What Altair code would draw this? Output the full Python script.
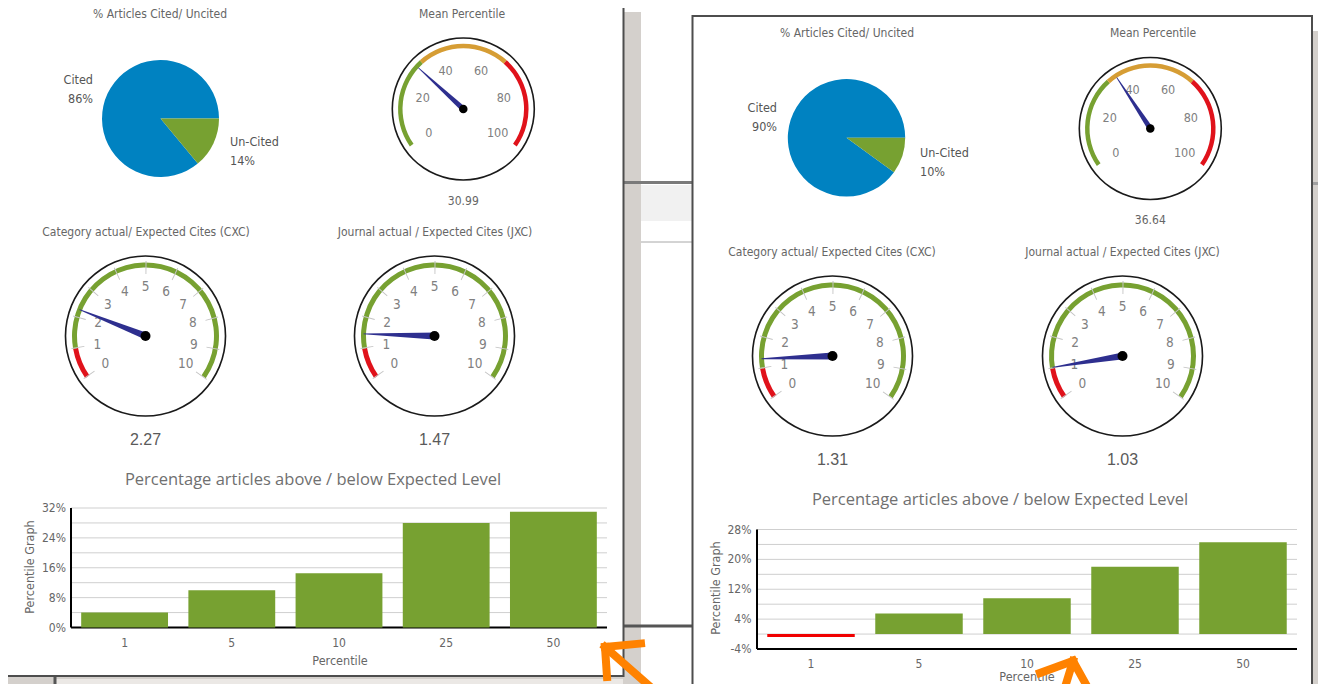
import math
import altair as alt
import pandas as pd

# ---------------- data ----------------
pie_labels = ["Cited", "Un-Cited"]
pie_values_left = [86, 14]
pie_values_right = [90, 10]

mean_values = [30.99, 36.64]
cxc_values = [2.27, 1.31]
jxc_values = [1.47, 1.03]

mean_ticks = [0, 20, 40, 60, 80, 100]
ratio_ticks = [0, 1, 2, 3, 4, 5, 6, 7, 8, 9, 10]
mean_zone_edges = [0, 33.3, 66.7, 100]
mean_zone_names = ["low", "mid", "high"]
ratio_zone_edges = [0, 1, 10]
ratio_zone_names = ["below", "above"]

bar_categories = ["1", "5", "10", "25", "50"]
bar_values_left = [4.0, 10.0, 14.5, 28.0, 31.0]
bar_values_right = [-0.8, 5.5, 9.6, 18.0, 24.6]
left_axis_ticks = [0, 8, 16, 24, 32]
right_axis_ticks = [-4, 4, 12, 20, 28]
left_grid = [0, 4, 8, 12, 16, 20, 24, 28, 32]
right_grid = [-4, 0, 4, 8, 12, 16, 20, 24, 28]

# ---------------- style ----------------
W, H = 1310, 676
OFF = 8
BLUE = "#0082C1"
GREEN = "#77A131"
RED = "#E0121B"
GOLD = "#D69D34"
NEEDLE = "#2E2F8F"
TXT = "#666666"
NARROW = "'Liberation Sans Narrow', 'DejaVu Sans Condensed', 'Roboto Condensed', 'Arial Narrow', sans-serif"
SANS = "'Liberation Sans', sans-serif"
TH0 = 2 * math.pi - math.radians(125)
TH1 = 2 * math.pi + math.radians(125)
DUMMY = pd.DataFrame({"d": [0]})


def px(v):
    return v - OFF


layers = []


def text_at(x, y, s, size, color=TXT, font=NARROW, align="center", baseline="middle", angle=None):
    kw = dict(text=s, fontSize=size, color=color, font=font, align=align, baseline=baseline)
    if angle is not None:
        kw["angle"] = angle
    return alt.Chart(DUMMY).mark_text(**kw).encode(x=alt.value(px(x)), y=alt.value(px(y)))


def rect_at(x1, y1, x2, y2, fill, stroke=None, sw=None):
    kw = dict(fill=fill, opacity=1)
    if stroke:
        kw.update(stroke=stroke, strokeWidth=sw)
    return alt.Chart(DUMMY).mark_rect(**kw).encode(
        x=alt.value(px(x1)), x2=alt.value(px(x2)), y=alt.value(px(y1)), y2=alt.value(px(y2)))


def line_at(x1, y1, x2, y2, color, w, cap="butt"):
    return alt.Chart(DUMMY).mark_rule(color=color, strokeWidth=w, strokeCap=cap).encode(
        x=alt.value(px(x1)), x2=alt.value(px(x2)), y=alt.value(px(y1)), y2=alt.value(px(y2)))


# ---------------- background / page ----------------
layers.append(rect_at(623, 12, 641, 700, "#d4d0cc"))
layers.append(rect_at(1312, 31, 1330, 700, "#d4d0cc"))
layers.append(rect_at(0, 677, 623, 700, "#d4d0cc"))
layers.append(rect_at(56, 679, 623, 700, "#ebe8e5"))
layers.append(line_at(55, 677, 55, 700, "#555555", 3))
layers.append(rect_at(641, 185, 692, 221, "#f1f1f1"))
layers.append(line_at(623, 182.5, 692, 182.5, "#7a7a7a", 3))
layers.append(line_at(641, 242, 692, 242, "#a8a8a8", 1))
layers.append(line_at(623, 626, 692, 626, "#555555", 3))
layers.append(line_at(1312, 183.5, 1330, 183.5, "#a0a0a0", 3))
# panels
layers.append(rect_at(-2, -2, 623.5, 676, "white", "#4d4d4d", 2))
layers.append(rect_at(692.5, 16, 1312, 720, "white", "#4d4d4d", 2))


# ---------------- components ----------------
def pie(cx, cy, r, values, lab_left, lab_right):
    df = pd.DataFrame({"label": pie_labels, "value": values})
    out = [alt.Chart(df).mark_arc(radius=r).encode(
        x=alt.value(px(cx)), y=alt.value(px(cy)),
        theta=alt.Theta("value:Q", stack=True,
                        scale=alt.Scale(range=[math.pi / 2, math.pi / 2 + 2 * math.pi])),
        order=alt.Order("label:N", sort="descending"),
        color=alt.Color("label:N", scale=alt.Scale(domain=pie_labels, range=[BLUE, GREEN]), legend=None),
    )]
    for i, (lx, ly, al) in enumerate([lab_left, lab_right]):
        d = pd.DataFrame({"label": [pie_labels[i]], "value": [values[i]]})
        out.append(alt.Chart(d).mark_text(font=NARROW, fontSize=12.5, color="#555", align=al, baseline="middle")
                   .encode(x=alt.value(px(lx)), y=alt.value(px(ly)), text="label:N"))
        out.append(alt.Chart(d).transform_calculate(t="datum.value + '%'")
                   .mark_text(font=NARROW, fontSize=12.5, color="#555", align=al, baseline="middle")
                   .encode(x=alt.value(px(lx)), y=alt.value(px(ly + 18.5)), text="t:N"))
    return out


def needle_path(hw):
    return f"M {-hw} 0.04 L {hw} 0.04 L 0.006 -1 L -0.006 -1 Z"


def gauge(cx, cy, value, maxv, ticks, edges, names, colors, ring_r, band_r, band_w,
          label_r, label_size, needle_len, needle_hw, dot_d, tick_marks,
          value_y, value_size, value_font, value_color):
    th = alt.Scale(domain=[0, maxv], range=[TH0, TH1])
    X = alt.value(px(cx))
    Y = alt.value(px(cy))
    out = []
    out.append(alt.Chart(DUMMY).mark_arc(radius=ring_r + 0.8, radius2=ring_r - 0.8, theta=0,
                                         theta2=2 * math.pi, color="#1a1a1a").encode(x=X, y=Y))
    bdf = pd.DataFrame({"start": edges[:-1], "end": edges[1:], "zone": names})
    out.append(alt.Chart(bdf).mark_arc(radius=band_r + band_w / 2, radius2=band_r - band_w / 2).encode(
        x=X, y=Y,
        theta=alt.Theta("start:Q", stack=None, scale=th), theta2=alt.Theta2("end:Q"),
        color=alt.Color("zone:N", scale=alt.Scale(domain=names, range=colors), legend=None)))
    tdf = pd.DataFrame({"t": ticks})
    if tick_marks:
        out.append(alt.Chart(tdf).mark_arc(radius=band_r + 4, radius2=band_r - 9, theta2Offset=0.014,
                                           color="#c4c4c4").encode(
            x=X, y=Y, theta=alt.Theta("t:Q", stack=None, scale=th), theta2=alt.Theta2("t:Q")))
    out.append(alt.Chart(tdf).mark_text(radius=label_r, font=NARROW, fontSize=label_size, color="#808080",
                                        align="center", baseline="middle").encode(
        x=X, y=Y, theta=alt.Theta("t:Q", stack=None, scale=th), text="t:Q"))
    ndf = pd.DataFrame({"v": [value]})
    out.append(alt.Chart(ndf).mark_point(shape=needle_path(needle_hw), filled=True, fill=NEEDLE, opacity=1,
                                         strokeWidth=0, size=4 * needle_len ** 2).encode(
        x=X, y=Y, angle=alt.Angle("v:Q", scale=alt.Scale(domain=[0, maxv], range=[235, 485]))))
    out.append(alt.Chart(DUMMY).mark_circle(size=dot_d ** 2, color="black", opacity=1).encode(x=X, y=Y))
    out.append(alt.Chart(ndf).mark_text(font=value_font, fontSize=value_size, color=value_color,
                                        align="center", baseline="middle").encode(
        x=X, y=alt.value(px(value_y)), text=alt.Text("v:Q", format=".2f")))
    return out


def mean_gauge(cx, cy, value, value_y):
    return gauge(cx, cy, value, 100, mean_ticks, mean_zone_edges, mean_zone_names, [GREEN, GOLD, RED],
                 ring_r=71, band_r=63, band_w=4.5, label_r=42, label_size=12.5, needle_len=61,
                 needle_hw=0.045, dot_d=8.5, tick_marks=False, value_y=value_y, value_size=12,
                 value_font=NARROW, value_color="#666")


def ratio_gauge(cx, cy, value, value_y):
    return gauge(cx, cy, value, 10, ratio_ticks, ratio_zone_edges, ratio_zone_names, [RED, GREEN],
                 ring_r=80, band_r=71, band_w=5, label_r=49, label_size=13.5, needle_len=71,
                 needle_hw=0.05, dot_d=10, tick_marks=True, value_y=value_y, value_size=16,
                 value_font=SANS, value_color="#5a5a5a")


def bar_chart(x0, x1, yb, yt, domain, values, grid, ticks, title_xy, ylab_x, xlab_y, xtitle_xy, ytitle_xy):
    xs = alt.Scale(domain=bar_categories, range=[px(x0), px(x1)], paddingInner=0.19, paddingOuter=0.095)
    ys = alt.Scale(domain=domain, range=[px(yb), px(yt)], nice=False)
    out = []
    out.append(text_at(title_xy[0], title_xy[1], "Percentage articles above / below Expected Level", 16.5,
                       color="#707070", font="'Open Sans', sans-serif"))
    gdf = pd.DataFrame({"g": grid})
    out.append(alt.Chart(gdf).mark_rule(color="#cfcfcf", strokeWidth=1).encode(
        y=alt.Y("g:Q", scale=ys, axis=None), x=alt.value(px(x0)), x2=alt.value(px(x1))))
    out.append(line_at(x0, yb, x1, yb, "#000000", 2))
    bdf = pd.DataFrame({"cat": bar_categories, "val": values})
    out.append(alt.Chart(bdf).transform_calculate(sign="datum.val < 0 ? 'below' : 'above'")
               .mark_bar(opacity=1).encode(
        x=alt.X("cat:N", scale=xs, axis=None, sort=bar_categories),
        y=alt.Y("val:Q", scale=ys, axis=None), y2=alt.datum(0),
        color=alt.Color("sign:N", scale=alt.Scale(domain=["above", "below"], range=[GREEN, "#F00000"]),
                        legend=None)))
    out.append(line_at(x0, yt, x0, yb, "#000000", 2))
    tdf = pd.DataFrame({"t": ticks})
    out.append(alt.Chart(tdf).transform_calculate(lab="datum.t + '%'")
               .mark_text(align="right", baseline="middle", font=NARROW, fontSize=12, color="#666").encode(
        x=alt.value(px(ylab_x)), y=alt.Y("t:Q", scale=ys, axis=None), text="lab:N"))
    out.append(alt.Chart(bdf).mark_text(baseline="middle", font=NARROW, fontSize=12, color="#666").encode(
        x=alt.X("cat:N", scale=xs, axis=None, sort=bar_categories), y=alt.value(px(xlab_y)), text="cat:N"))
    out.append(text_at(xtitle_xy[0], xtitle_xy[1], "Percentile", 12.5, color="#666"))
    out.append(text_at(ytitle_xy[0], ytitle_xy[1], "Percentile Graph", 12.5, color="#666", angle=270))
    return out


# ---------------- left panel ----------------
layers.append(text_at(160, 14, "% Articles Cited/ Uncited", 12))
layers.append(text_at(462, 14, "Mean Percentile", 12))
layers += pie(160.5, 118.5, 58.5, pie_values_left, (93, 80, "right"), (230, 142, "left"))
layers += mean_gauge(463.3, 109, mean_values[0], 201)
layers.append(text_at(146, 231.5, "Category actual/ Expected Cites (CXC)", 12))
layers.append(text_at(435, 232, "Journal actual / Expected Cites (JXC)", 12))
layers += ratio_gauge(145.5, 336, cxc_values[0], 440)
layers += ratio_gauge(434.5, 336, jxc_values[0], 440)
layers += bar_chart(71, 607, 627.5, 508, [0, 32], bar_values_left, left_grid, left_axis_ticks,
                    (313, 480), 66, 643, (340, 661), (30, 567))

# ---------------- right panel ----------------
layers.append(text_at(847, 33, "% Articles Cited/ Uncited", 12))
layers.append(text_at(1153, 33, "Mean Percentile", 12))
layers += pie(846.5, 137.8, 58.7, pie_values_right, (777, 108, "right"), (920, 153, "left"))
layers += mean_gauge(1150.3, 128.5, mean_values[1], 220)
layers.append(text_at(832, 251.5, "Category actual/ Expected Cites (CXC)", 12))
layers.append(text_at(1122.5, 251.5, "Journal actual / Expected Cites (JXC)", 12))
layers += ratio_gauge(832.5, 356, cxc_values[1], 460)
layers += ratio_gauge(1122.5, 356, jxc_values[1], 460)
layers += bar_chart(757, 1297, 649, 529.5, [-4, 28], bar_values_right, right_grid, right_axis_ticks,
                    (1000, 500), 751.5, 664, (1027, 676.5), (716, 588))

# ---------------- orange arrows ----------------
ORANGE = "#FF8200"
layers.append(line_at(605, 647, 641, 643.5, ORANGE, 8, "square"))
layers.append(line_at(605, 647, 607, 677, ORANGE, 8, "square"))
layers.append(line_at(605, 647, 662, 697, ORANGE, 8, "square"))
layers.append(line_at(1073, 661, 1040, 673, ORANGE, 8, "square"))
layers.append(line_at(1073, 661, 1093, 697, ORANGE, 8, "square"))
layers.append(line_at(1073, 661, 1062, 697, ORANGE, 8, "square"))

chart = alt.layer(*layers).resolve_scale(
    x="independent", y="independent", theta="independent", color="independent", angle="independent"
).properties(width=W, height=H, padding=0, autosize="none", background="white").configure_view(stroke=None)

chart.save("out.html", embed_options={"renderer": "svg", "actions": False})
